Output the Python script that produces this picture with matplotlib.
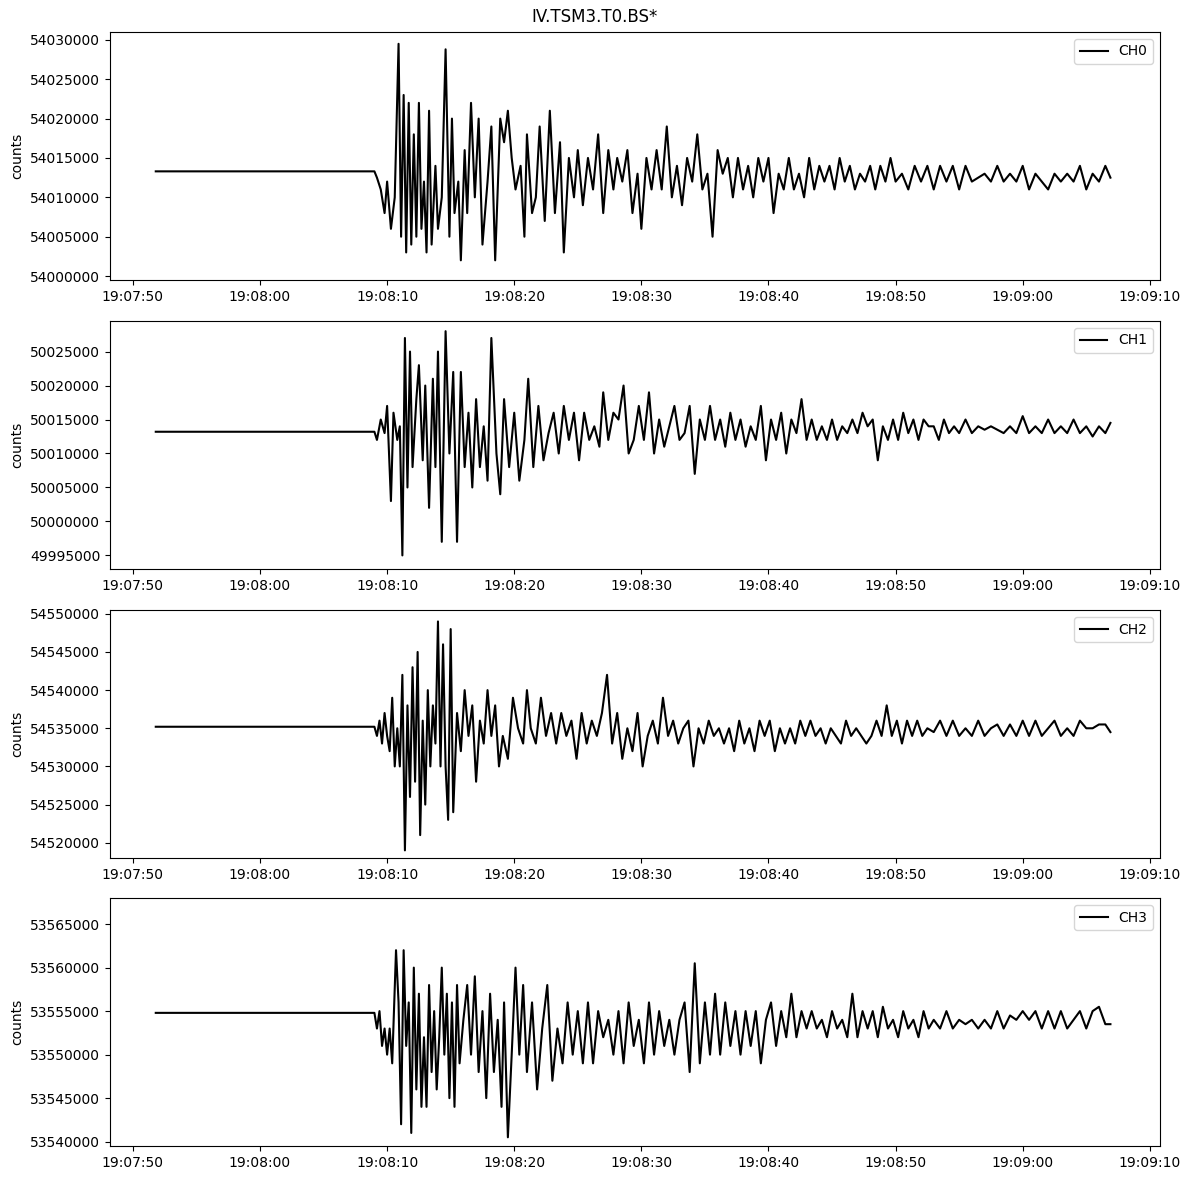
import matplotlib
matplotlib.use("Agg")
import matplotlib.pyplot as plt
import matplotlib.dates as mdates
from matplotlib.ticker import ScalarFormatter, MultipleLocator
import datetime as dt

start = dt.datetime(2020, 1, 1, 19, 7, 51, 800000)
ref = dt.datetime(2020, 1, 1, 19, 8, 0)
channels = ["CH0", "CH1", "CH2", "CH3"]
baselines = [54013300, 50013200, 54535200, 53554800]
offsets = [54000000, 50000000, 54500000, 53500000]

# (seconds after 19:08:00, value in thousands above offset)
ch0 = [(9.0,13.3),(9.2,12.5),(9.5,11),(9.8,8),(10.0,12),(10.3,6),(10.6,10),(10.9,29.5),(11.1,5),(11.3,23),(11.5,3),(11.7,22),(11.9,4),(12.1,18),(12.3,5),(12.5,22),(12.7,6),(12.9,12),(13.1,3),(13.3,21),(13.5,4),(13.8,14),(14.0,6),(14.3,10),(14.6,28.8),(14.9,5),(15.1,20),(15.3,8),(15.6,12),(15.8,2),(16.1,16),(16.3,8),(16.6,22),(16.9,10),(17.2,20),(17.5,4),(17.9,12),(18.2,19),(18.5,2),(18.9,20),(19.2,17),(19.5,21),(19.8,15),(20.1,11),(20.5,14),(20.8,5),(21.0,18),(21.4,8),(21.7,10),(22.0,19),(22.4,7),(22.8,21),(23.2,8),(23.6,17),(23.9,3),(24.3,15),(24.7,10),(25.0,16),(25.4,9),(25.8,15),(26.2,11),(26.6,18),(27.0,8),(27.4,16),(27.8,11),(28.1,15),(28.5,12),(28.9,16),(29.3,8),(29.7,13),(30.0,6),(30.4,15),(30.8,11),(31.2,16),(31.6,11),(32.0,19),(32.4,10),(32.8,14),(33.2,9),(33.6,15),(34.0,12),(34.4,18),(34.8,11),(35.2,13),(35.6,5),(36.0,16),(36.4,13),(36.8,15),(37.2,10),(37.6,15),(38.0,11),(38.4,14),(38.8,10),(39.2,15),(39.6,12),(40.0,15),(40.4,8),(40.8,13),(41.2,11),(41.6,15),(42.0,11),(42.4,13),(42.8,10),(43.2,15),(43.6,11),(44.0,14),(44.4,12),(44.8,14),(45.2,11),(45.6,15),(46.0,12),(46.4,14),(46.8,11),(47.2,13),(47.6,12),(48.0,14),(48.4,11),(48.8,14),(49.2,12),(49.6,15),(50.0,12),(50.5,13),(51.0,11),(51.5,14),(52.0,12),(52.5,14),(53.0,11),(53.5,14),(54.0,12),(54.5,14),(55.0,11),(55.5,14),(56.0,12),(56.5,12.5),(57.0,13),(57.5,12),(58.0,14),(58.5,12),(59.0,13),(59.5,12),(60.0,14),(60.5,11),(61.0,13),(61.5,12),(62.0,11),(62.5,13),(63.0,12),(63.5,13),(64.0,12),(64.5,14),(65.0,11),(65.5,13),(66.0,12),(66.5,14),(66.9,12.5)]
ch1 = [(9.0,13.2),(9.2,12),(9.5,15),(9.8,13),(10.0,17),(10.3,3),(10.5,16),(10.8,12),(11.0,14),(11.2,-5),(11.4,27),(11.6,5),(11.8,25),(12.0,8),(12.3,18),(12.5,23),(12.8,9),(13.0,20),(13.3,2),(13.6,21),(13.8,8),(14.0,25),(14.3,-3),(14.6,28),(14.9,10),(15.2,22),(15.5,-3),(15.8,22),(16.1,8),(16.4,16),(16.7,5),(17.0,18),(17.3,8),(17.6,14),(17.9,6),(18.2,27),(18.6,10),(18.9,4),(19.2,18),(19.6,8),(20.0,16),(20.4,6),(20.8,12),(21.1,21),(21.5,8),(21.9,17),(22.3,9),(22.7,13),(23.1,16),(23.5,10),(23.9,17),(24.3,12),(24.7,16),(25.1,9),(25.5,16),(25.9,12),(26.3,14),(26.7,11),(27.0,19),(27.4,12),(27.8,16),(28.2,15),(28.6,20),(29.0,10),(29.4,12),(29.8,17),(30.2,12),(30.6,19),(31.0,10),(31.4,15),(31.8,11),(32.2,14),(32.6,17),(33.0,12),(33.4,13),(33.8,17),(34.2,7),(34.6,15),(35.0,12),(35.4,17),(35.8,12),(36.2,15),(36.6,11),(37.0,16),(37.4,12),(37.8,15),(38.2,11),(38.6,14),(39.0,12),(39.4,17),(39.8,9),(40.2,15),(40.6,12),(41.0,16),(41.4,10),(41.8,15),(42.2,13),(42.6,18),(43.0,12),(43.4,15),(43.8,12),(44.2,14),(44.6,12),(45.0,15),(45.4,12),(45.8,14),(46.2,13),(46.6,15),(47.0,13),(47.4,16),(47.8,14),(48.2,15),(48.6,9),(49.0,14),(49.4,12),(49.8,15),(50.2,12),(50.6,16),(51.0,13),(51.4,15),(51.8,12),(52.2,15),(52.6,14),(53.0,14),(53.4,12),(53.8,15),(54.2,13),(54.6,14),(55.0,13),(55.5,15),(56.0,13),(56.5,14),(57.0,13.5),(57.5,14),(58.0,13.5),(58.5,13),(59.0,14),(59.5,13),(60.0,15.5),(60.5,13),(61.0,14),(61.5,13),(62.0,15),(62.5,13),(63.0,14),(63.5,13),(64.0,15),(64.5,13),(65.0,14),(65.5,12.5),(66.0,14),(66.5,13),(66.9,14.5)]
ch2 = [(9.0,35.2),(9.2,34),(9.4,36),(9.6,33),(9.8,37),(10.0,34),(10.2,32),(10.4,39),(10.6,30),(10.8,35),(11.0,30),(11.2,42),(11.4,19),(11.6,38),(11.8,26),(12.0,43),(12.2,28),(12.4,45),(12.6,21),(12.8,36),(13.0,25),(13.2,40),(13.4,30),(13.6,38),(13.8,33),(14.0,49),(14.2,30),(14.4,46),(14.6,30),(14.8,23),(15.0,48),(15.2,24),(15.5,37),(15.8,32),(16.1,40),(16.4,34),(16.7,38),(17.0,28),(17.3,36),(17.6,33),(17.9,40),(18.2,34),(18.5,38),(18.8,30),(19.1,34),(19.5,31),(19.9,39),(20.3,35),(20.7,33),(21.0,40),(21.3,35),(21.7,33),(22.1,39),(22.5,34),(22.9,37),(23.3,33),(23.7,37),(24.1,34),(24.5,36),(24.9,31),(25.3,37),(25.7,33),(26.1,36),(26.5,34),(26.9,37),(27.3,42),(27.7,33),(28.1,37),(28.5,31),(28.9,35),(29.3,32),(29.7,37),(30.1,30),(30.5,34),(30.9,36),(31.3,33),(31.7,39),(32.1,34),(32.5,36),(32.9,33),(33.3,35),(33.7,36),(34.1,30),(34.5,35),(34.9,33),(35.3,36),(35.7,34),(36.1,35),(36.5,33),(36.9,35),(37.3,32),(37.7,36),(38.1,33),(38.5,35),(38.9,32),(39.3,36),(39.7,34),(40.1,36),(40.5,32),(40.9,35),(41.3,33),(41.7,35),(42.1,33),(42.5,36),(42.9,34),(43.3,36),(43.7,34),(44.1,35),(44.5,33),(44.9,35),(45.3,34),(45.7,33),(46.1,36),(46.5,34),(46.9,35),(47.3,34),(47.7,33),(48.1,34),(48.5,36),(48.9,34),(49.3,38),(49.7,34),(50.1,36),(50.5,33),(50.9,36),(51.3,34),(51.7,36),(52.1,34),(52.5,35),(53.0,34.5),(53.5,36),(54.0,34),(54.5,36),(55.0,34),(55.5,35),(56.0,34),(56.5,36),(57.0,34),(57.5,35),(58.0,35.5),(58.5,34),(59.0,35.5),(59.5,34),(60.0,36),(60.5,34),(61.0,36),(61.5,34),(62.0,35),(62.5,36),(63.0,34),(63.5,35),(64.0,34),(64.5,36),(65.0,35),(65.5,35),(66.0,35.5),(66.5,35.5),(66.9,34.5)]
ch3 = [(9.0,54.8),(9.2,53),(9.4,55),(9.6,51),(9.8,53),(10.0,50),(10.2,53),(10.4,49),(10.7,62),(10.9,56),(11.1,42),(11.3,62),(11.5,51),(11.7,56),(11.9,41),(12.1,60),(12.3,46),(12.5,57),(12.7,44),(12.9,52),(13.1,44),(13.3,58),(13.5,48),(13.7,55),(13.9,46),(14.1,52),(14.3,60),(14.5,50),(14.7,57),(14.9,45),(15.1,56),(15.3,44),(15.5,58),(15.7,49),(16.0,54),(16.3,58),(16.6,50),(16.9,59),(17.2,48),(17.5,55),(17.8,45),(18.1,57),(18.4,48),(18.7,54),(19.0,44),(19.2,56),(19.5,40.5),(19.8,50),(20.1,60),(20.4,50),(20.7,58),(21.0,48),(21.4,56),(21.8,46),(22.2,53),(22.6,58),(23.0,47),(23.4,53),(23.8,49),(24.2,56),(24.6,50),(25.0,55),(25.4,49),(25.8,56),(26.2,49),(26.6,55),(27.0,52),(27.4,54),(27.8,50),(28.2,55),(28.6,49),(29.0,56),(29.4,51),(29.8,54),(30.2,49),(30.6,56),(31.0,50),(31.4,55),(31.8,51),(32.2,54),(32.6,50),(33.0,54),(33.4,56),(33.8,48),(34.2,60.5),(34.6,49),(35.0,56),(35.4,50),(35.8,57),(36.2,50),(36.6,56),(37.0,51),(37.4,55),(37.8,50),(38.2,55),(38.6,51),(39.0,55),(39.4,49),(39.8,54),(40.2,56),(40.6,51),(41.0,55),(41.4,52),(41.8,57),(42.2,52),(42.6,55),(43.0,53),(43.4,55),(43.8,53),(44.2,54),(44.6,52),(45.0,55),(45.4,53),(45.8,54),(46.2,52),(46.6,57),(47.0,52),(47.4,55),(47.8,53),(48.2,55),(48.6,52),(49.0,55.5),(49.4,53),(49.8,54),(50.2,52),(50.6,55),(51.0,53),(51.4,54),(51.8,52),(52.2,55),(52.6,53),(53.0,54),(53.5,53),(54.0,55),(54.5,53),(55.0,54),(55.5,53.5),(56.0,54),(56.5,53),(57.0,54),(57.5,53),(58.0,55),(58.5,53),(59.0,54.5),(59.5,54),(60.0,55),(60.5,54),(61.0,55),(61.5,53),(62.0,55),(62.5,53),(63.0,55),(63.5,53),(64.0,54),(64.5,55),(65.0,53),(65.5,55),(66.0,55.5),(66.5,53.5),(66.9,53.5)]
data = [ch0, ch1, ch2, ch3]
ylims = [(53999500, 54031000), (49993000, 50029500), (54518000, 54550500), (53539500, 53568000)]

fig = plt.figure(figsize=(11.89, 11.8), dpi=100)
tops = [32, 321, 610, 898]
H = 248
for i in range(4):
    ax = fig.add_axes([110/1189, 1 - (tops[i] + H)/1180, 1050/1189, H/1180])
    times = [start, ref + dt.timedelta(seconds=8.8)] + [ref + dt.timedelta(seconds=t) for t, _ in data[i]]
    vals = [baselines[i], baselines[i]] + [offsets[i] + v * 1000 for _, v in data[i]]
    ax.plot(times, vals, color="black", lw=1.5, label=channels[i])
    ax.set_ylim(*ylims[i])
    ax.yaxis.set_major_locator(MultipleLocator(5000))
    fmt = ScalarFormatter(useOffset=False)
    fmt.set_scientific(False)
    ax.yaxis.set_major_formatter(fmt)
    ax.xaxis.set_major_locator(mdates.SecondLocator(bysecond=range(0, 60, 10)))
    ax.xaxis.set_major_formatter(mdates.DateFormatter("%H:%M:%S"))
    ax.set_xlim(dt.datetime(2020, 1, 1, 19, 7, 48, 200000), dt.datetime(2020, 1, 1, 19, 9, 10, 800000))
    ax.set_ylabel("counts")
    ax.legend(loc="upper right")
fig.suptitle("IV.TSM3.T0.BS*", y=0.993, fontsize=12)
fig.savefig("out.png")
